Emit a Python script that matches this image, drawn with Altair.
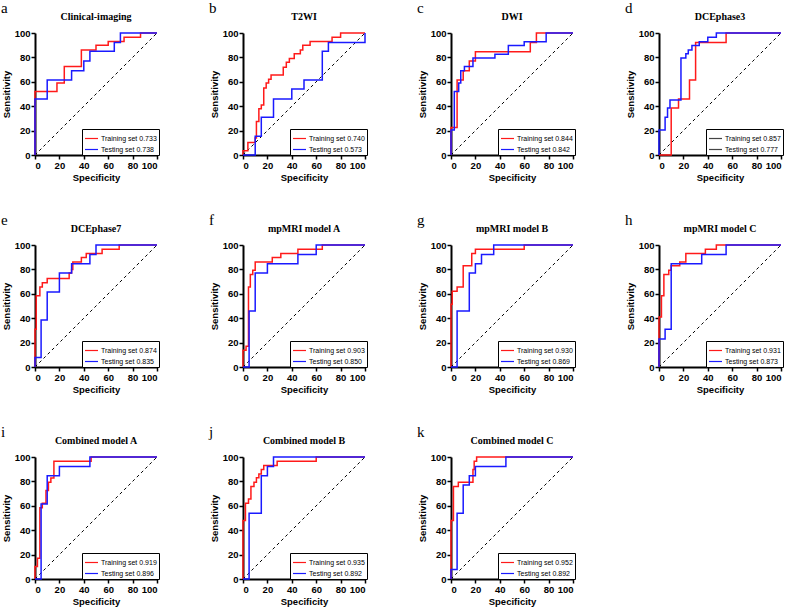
import altair as alt
import pandas as pd

RED = "#FF1A1A"
BLUE = "#1A1AFF"
SERIF = "Liberation Serif"
SANS = "Liberation Sans"
TICKS = [0, 20, 40, 60, 80, 100]

# step points: (x at end of a horizontal run, level of that run)
a_tr_x = [0, 18, 24, 38, 50, 60, 73, 86.5, 100]
a_tr_y = [0, 52, 59, 72.5, 86, 90, 93, 96.5, 100]
a_te_x = [0, 10, 30, 40, 45, 65, 70, 100]
a_te_y = [0, 46, 61.5, 69, 77, 85, 92.3, 100]

b_tr_x = [0, 4, 10, 11, 13, 15, 17, 19, 21, 23, 33, 35.5, 38, 42, 47, 49, 55, 73, 80, 100]
b_tr_y = [0, 3.5, 10.3, 14, 27.5, 38, 41, 55, 59, 62, 65.5, 72, 76, 79, 83, 86, 90, 93, 96.5, 100]
b_te_x = [0, 10, 15, 25, 40, 50, 65, 70, 100, 100]
b_te_y = [0, 0, 15.4, 31, 46, 54, 61.5, 85, 92.3, 100]

c_tr_x = [0, 5, 10, 15, 20, 65, 70, 100]
c_tr_y = [0, 22.5, 61.5, 69, 77, 84.6, 92.3, 100]
c_te_x = [0, 2.7, 6.3, 8, 11, 18, 36, 47, 60, 78, 100]
c_te_y = [0, 20.5, 52, 59, 69, 72.5, 79.5, 82.5, 89.7, 92.8, 100]

d_tr_x = [0, 10, 16, 25, 30, 55, 100]
d_tr_y = [0, 0, 38.5, 46, 61.5, 92.3, 100]
d_te_x = [0, 5, 7, 9, 18, 22, 24, 27, 33, 40, 47, 100]
d_te_y = [0, 20.5, 31, 38.5, 45, 79.5, 83, 86, 89.7, 92.8, 96.5, 100]

e_tr_x = [0, 1, 4, 6, 10, 28, 30, 31, 38, 42, 55, 69, 100]
e_tr_y = [0, 31, 58.5, 65.5, 69, 72.5, 77, 80, 86, 89.7, 93, 96.5, 100]
e_te_x = [0, 5, 10, 20, 30, 45, 50, 100]
e_te_y = [0, 7.7, 38.5, 61.5, 77, 84.6, 92.3, 100]

f_tr_x = [0, 2.5, 4.5, 6, 8, 10, 24, 31, 45, 65, 100]
f_tr_y = [0, 13.8, 17, 65.5, 75.8, 79.3, 86, 89.7, 93, 96.5, 100]
f_te_x = [0, 5, 10, 20, 45, 60, 100]
f_te_y = [0, 0, 46, 77, 84.6, 92.3, 100]

g_tr_x = [0, 1, 5, 10, 17, 20, 60, 100]
g_tr_y = [0, 51.5, 62, 65.5, 83, 93, 96.5, 100]
g_te_x = [0, 5, 15, 20, 25, 35, 100]
g_te_y = [0, 0, 46, 77, 84.6, 92.3, 100]

h_tr_x = [0, 2, 4, 8, 10, 17, 22, 38, 47, 100]
h_tr_y = [0, 41, 58.5, 75.8, 79.3, 83, 86, 93, 96.5, 100]
h_te_x = [0, 5, 10, 35, 55, 100]
h_te_y = [0, 23, 31, 84.6, 92.3, 100]

i_tr_x = [0, 2, 4, 6, 9, 11, 13, 15.5, 46, 100]
i_tr_y = [0, 10.3, 17, 58.5, 62, 72.5, 79.3, 82.8, 96.5, 100]
i_te_x = [0, 5, 10, 20, 45, 100]
i_te_y = [0, 0, 61.5, 84.6, 92.3, 100]

j_tr_x = [0, 2, 4.5, 6.5, 9, 11, 13, 15, 17, 28, 60, 100]
j_tr_y = [0, 48, 62, 65.5, 75.8, 79.3, 83, 86, 89.7, 93, 96.5, 100]
j_te_x = [0, 5, 15, 20, 25, 100]
j_te_y = [0, 0, 53.8, 84.6, 92.3, 100]

k_tr_x = [0, 2, 6, 18, 19, 21, 100]
k_tr_y = [0, 48, 75.8, 79.3, 89.7, 96.5, 100]
k_te_x = [0, 5, 10, 15, 20, 45, 100]
k_te_y = [0, 7.7, 53.8, 77, 84.6, 92.3, 100]

letters = ["a", "b", "c", "d", "e", "f", "g", "h", "i", "j", "k"]
titles = ["Clinical-imaging", "T2WI", "DWI", "DCEphase3", "DCEphase7",
          "mpMRI model A", "mpMRI model B", "mpMRI model C",
          "Combined model A", "Combined model B", "Combined model C"]
auc_train = ["0.733", "0.740", "0.844", "0.857", "0.874", "0.903", "0.930", "0.931", "0.919", "0.935", "0.952"]
auc_test = ["0.738", "0.573", "0.842", "0.777", "0.835", "0.850", "0.869", "0.873", "0.896", "0.892", "0.892"]
legend_gray = [False, False, False, True, False, False, False, False, False, False, False]
curves = [
    (a_tr_x, a_tr_y, a_te_x, a_te_y), (b_tr_x, b_tr_y, b_te_x, b_te_y),
    (c_tr_x, c_tr_y, c_te_x, c_te_y), (d_tr_x, d_tr_y, d_te_x, d_te_y),
    (e_tr_x, e_tr_y, e_te_x, e_te_y), (f_tr_x, f_tr_y, f_te_x, f_te_y),
    (g_tr_x, g_tr_y, g_te_x, g_te_y), (h_tr_x, h_tr_y, h_te_x, h_te_y),
    (i_tr_x, i_tr_y, i_te_x, i_te_y), (j_tr_x, j_tr_y, j_te_x, j_te_y),
    (k_tr_x, k_tr_y, k_te_x, k_te_y),
]
diag_x = [0, 100]
diag_y = [0, 100]

W = 122
H = 122


def panel(idx):
    letter = letters[idx]
    lab_tr = f"Training set {auc_train[idx]}"
    lab_te = f"Testing set {auc_test[idx]}"
    trx, tr_y, tex, tey = curves[idx]
    df_tr = pd.DataFrame({"x": trx, "y": tr_y, "o": list(range(len(trx)))})
    df_te = pd.DataFrame({"x": tex, "y": tey, "o": list(range(len(tex)))})
    xenc = alt.X("x:Q", scale=alt.Scale(domain=[0, 100], nice=False),
                 axis=alt.Axis(values=TICKS, title="Specificity"))
    yenc = alt.Y("y:Q", scale=alt.Scale(domain=[0, 100], nice=False),
                 axis=alt.Axis(values=TICKS, title="Sensitivity"))
    leg_range = ["#444444", "#444444"] if legend_gray[idx] else [RED, BLUE]
    legend_kw = dict(
        title=None, orient="none", legendX=47, legendY=96,
        strokeColor="black", fillColor="white",
        padding=2, labelFontSize=7, labelFont=SANS, labelColor="black",
        symbolType="stroke", symbolSize=169, symbolStrokeWidth=1.2,
        labelOffset=2, rowPadding=0, labelLimit=200,
    )
    cenc = alt.Color("s:N", scale=alt.Scale(domain=[lab_tr, lab_te], range=leg_range),
                     legend=alt.Legend(**legend_kw))
    # one point per series: draws no path, only feeds the legend
    leg = alt.Chart(pd.DataFrame({"x": [0, 0], "y": [0, 0], "s": [lab_tr, lab_te]})).mark_line(
        strokeWidth=1.2).encode(x=xenc, y=yenc, color=cenc)
    diag = alt.Chart(pd.DataFrame({"x": diag_x, "y": diag_y})).mark_line(
        color="black", strokeDash=[3, 3], strokeWidth=1
    ).encode(x=xenc, y=yenc)
    red = alt.Chart(df_tr).mark_line(interpolate="step-before", strokeWidth=1.5, color=RED).encode(
        x=xenc, y=yenc, order="o:Q")
    blue = alt.Chart(df_te).mark_line(interpolate="step-before", strokeWidth=1.5, color=BLUE).encode(
        x=xenc, y=yenc, order="o:Q")
    lett = alt.Chart(pd.DataFrame({"t": [letter]})).mark_text(
        align="left", baseline="alphabetic", font=SERIF, fontSize=15, color="black"
    ).encode(text="t:N", x=alt.value(-34), y=alt.value(-20))
    name = alt.Chart(pd.DataFrame({"t": [titles[idx]]})).mark_text(
        align="center", baseline="alphabetic", font=SERIF, fontSize=10,
        fontWeight="bold", color="black"
    ).encode(text="t:N", x=alt.value(W / 2), y=alt.value(-13))
    return alt.layer(leg, diag, red, blue, lett, name).properties(width=W, height=H)


charts = [panel(i) for i in range(len(letters))]

chart = alt.concat(*charts, columns=4, spacing={"row": 31, "column": 49}).resolve_scale(
    color="independent"
).resolve_legend(color="independent").configure_view(stroke=None).configure_axis(
    grid=False, domainColor="black", domainWidth=2, tickColor="black", tickWidth=1.5,
    tickSize=4, labelFont=SANS, labelFontWeight="bold", labelFontSize=9.5,
    labelColor="black", titleFont=SANS, titleFontWeight="bold", titleFontSize=9.5,
    titleColor="black", labelPadding=1, titlePadding=3,
).configure_legend(strokeWidth=1).properties(
    padding={"left": 1, "top": 1, "right": 1, "bottom": 1}, background="white")

chart.save("out.html", embed_options={"renderer": "svg", "actions": False})
